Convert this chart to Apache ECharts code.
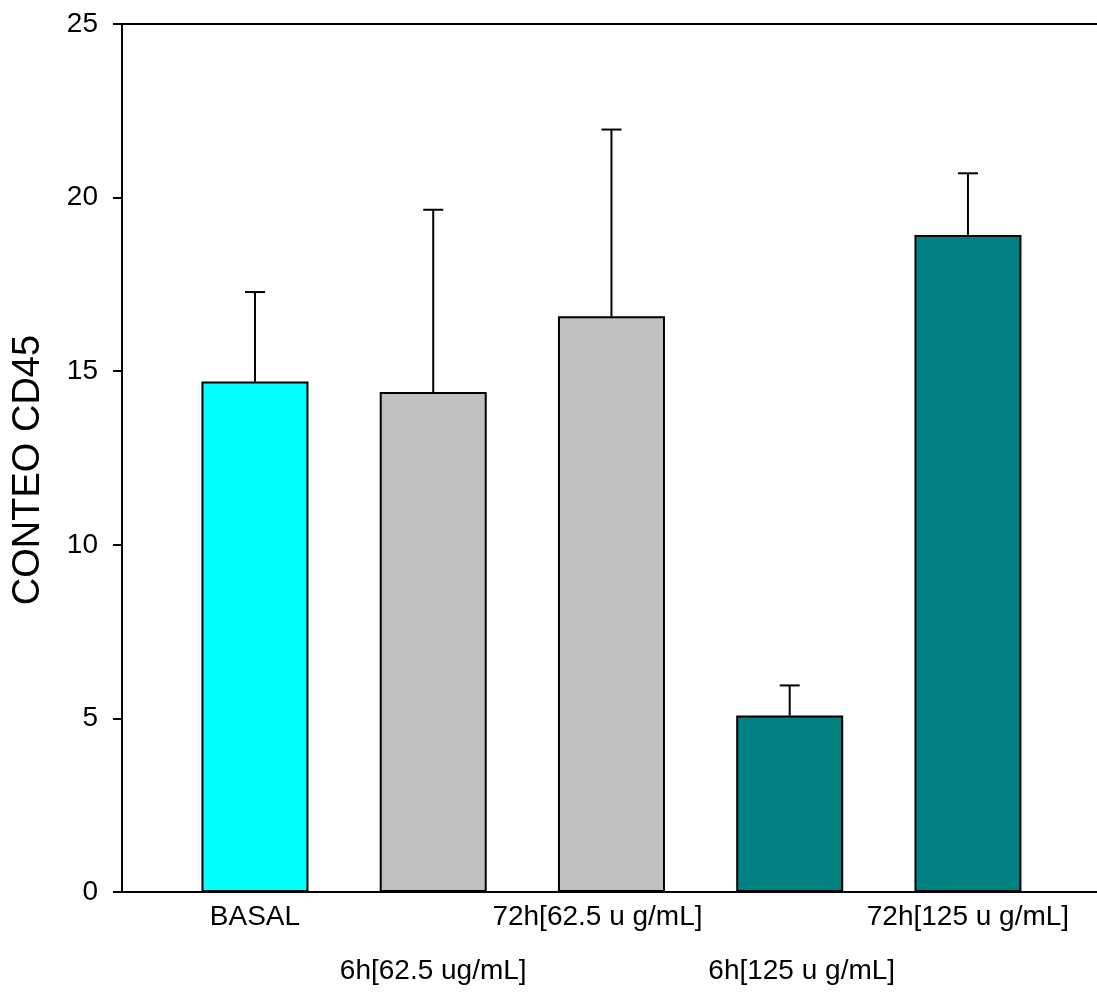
<!DOCTYPE html>
<html>
<head>
<meta charset="utf-8">
<style>
  html, body { margin: 0; padding: 0; background: #fff; }
  #chart { width: 1097px; height: 999px; }
</style>
<script src="https://cdn.jsdelivr.net/npm/echarts@6/dist/echarts.min.js"></script>
</head>
<body>
<div id="chart"></div>
<script>
// data
var categories = ['BASAL', '6h[62.5 ug/mL]', '72h[62.5 u g/mL]', '6h[125 u g/mL]', '72h[125 u g/mL]'];
var positions = [1, 2, 3, 4, 5];
var means = [14.7, 14.4, 16.58, 5.08, 18.92];
var errors = [2.58, 5.25, 5.38, 0.87, 1.78];
var yTicks = [0, 5, 10, 15, 20, 25];

var barColors = ['#00FFFF', '#C0C0C0', '#C0C0C0', '#008080', '#008080'];
var font = '"Liberation Sans", Arial, sans-serif';
// small nudges of the label text, as in the original figure
var labelStyleKeys = ['c', 'c', 'l', 'r', 'c'];

var chart = echarts.init(document.getElementById('chart'), null, { renderer: 'canvas' });

var barData = positions.map(function (x, i) {
  return { value: [x, means[i]], itemStyle: { color: barColors[i] } };
});
var errData = positions.map(function (x, i) {
  return [x, means[i], errors[i]];
});

// labels alternate between two rows
var rowOne = positions.filter(function (p, i) { return i % 2 === 0; });
var rowTwo = positions.filter(function (p, i) { return i % 2 === 1; });

function catLabel(v) {
  var i = positions.indexOf(v);
  return i < 0 ? '' : '{' + labelStyleKeys[i] + '|' + categories[i] + '}';
}

function renderErr(params, api) {
  var x = api.value(0), y = api.value(1), e = api.value(2);
  var p0 = api.coord([x, y]);
  var p1 = api.coord([x, y + e]);
  var style = { stroke: '#000', lineWidth: 2 };
  return {
    type: 'group',
    children: [
      { type: 'line', shape: { x1: p0[0], y1: p0[1], x2: p1[0], y2: p1[1] }, style: style },
      { type: 'line', shape: { x1: p1[0] - 10, y1: p1[1], x2: p1[0] + 10, y2: p1[1] }, style: style }
    ]
  };
}

var xMin = 0.254, xMax = 5.724;

function xLabelStyle(values, margin) {
  var base = { color: '#000', fontFamily: font, fontSize: 28, lineHeight: 50 };
  return {
    customValues: values,
    showMinLabel: true,
    showMaxLabel: true,
    hideOverlap: false,
    margin: margin,
    color: '#000',
    fontFamily: font,
    fontSize: 28,
    lineHeight: 50,
    formatter: catLabel,
    rich: {
      c: base,
      l: Object.assign({ padding: [0, 28, 0, 0] }, base),
      r: Object.assign({ padding: [0, 0, 0, 24] }, base)
    }
  };
}

chart.setOption({
  animation: false,
  backgroundColor: '#fff',
  grid: { left: 122, right: 0, top: 24, bottom: 107, outerBoundsMode: 'none', containLabel: false },
  xAxis: [{
    type: 'value',
    min: xMin,
    max: xMax,
    position: 'bottom',
    splitLine: { show: false },
    axisLine: { show: true, lineStyle: { color: '#000', width: 2 } },
    axisTick: { show: false },
    axisLabel: xLabelStyle(rowOne, 0)
  }, {
    type: 'value',
    min: xMin,
    max: xMax,
    position: 'top',
    splitLine: { show: false },
    axisLine: { show: true, lineStyle: { color: '#000', width: 2 } },
    axisTick: { show: false },
    axisLabel: { show: false }
  }, {
    type: 'value',
    min: xMin,
    max: xMax,
    position: 'bottom',
    offset: 0,
    splitLine: { show: false },
    axisLine: { show: false },
    axisTick: { show: false },
    axisLabel: xLabelStyle(rowTwo, 54)
  }],
  yAxis: {
    type: 'value',
    min: 0,
    max: 25,
    interval: 5,
    name: 'CONTEO CD45',
    nameLocation: 'middle',
    nameGap: 74,
    nameTextStyle: { color: '#000', fontSize: 38, fontFamily: font, padding: [0, 24, 0, 0] },
    splitLine: { show: false },
    axisLine: { show: true, lineStyle: { color: '#000', width: 2 } },
    axisTick: { show: true, length: 9, inside: false, lineStyle: { color: '#000', width: 2 } },
    axisLabel: {
      margin: 24,
      color: '#000',
      fontFamily: font,
      fontSize: 28,
      formatter: function (v) { return yTicks.indexOf(v) >= 0 ? String(v) : ''; }
    }
  },
  series: [{
    type: 'bar',
    data: barData,
    barWidth: 107,
    itemStyle: { borderColor: '#000', borderWidth: 2 },
    z: 2
  }, {
    type: 'custom',
    data: errData,
    renderItem: renderErr,
    z: 3
  }]
});
</script>
</body>
</html>
